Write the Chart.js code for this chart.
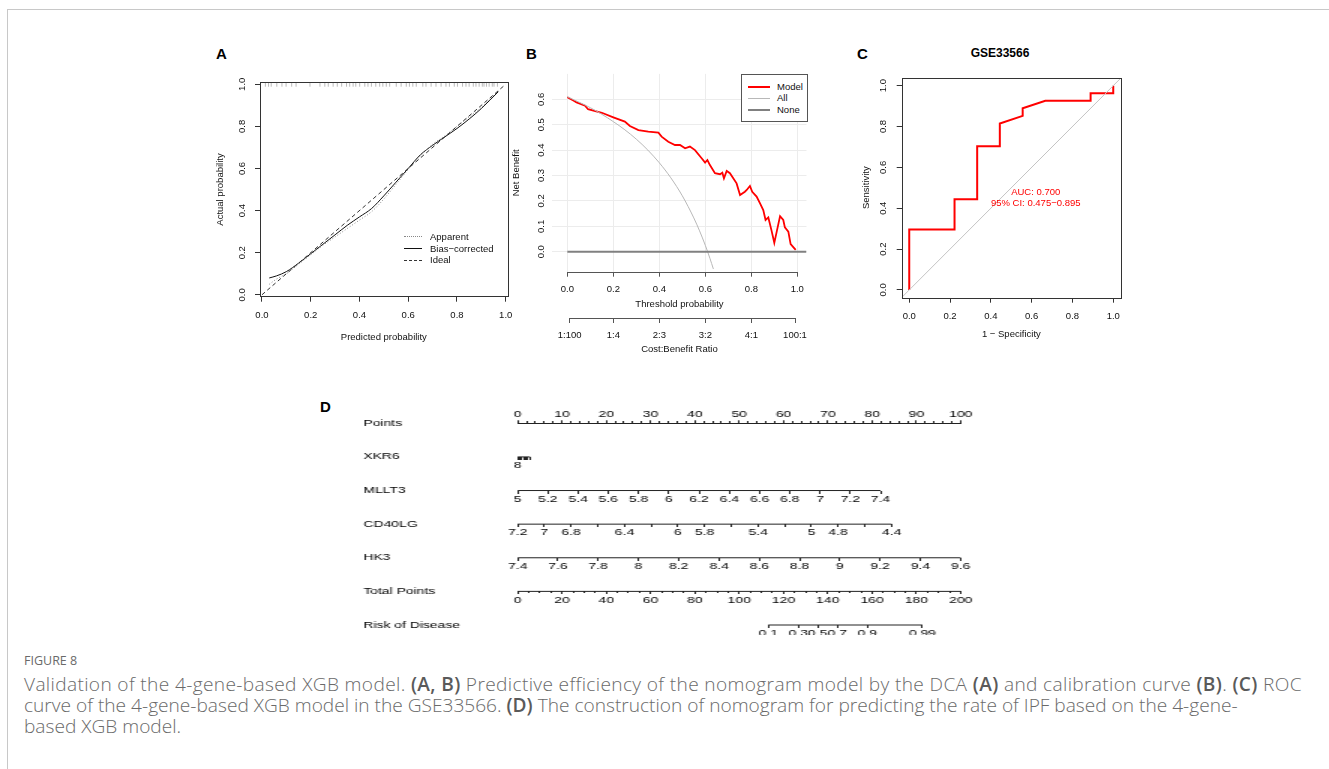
<!DOCTYPE html>
<html>
<head>
<meta charset="utf-8">
<script src="https://cdn.jsdelivr.net/npm/chart.js@4.4.0/dist/chart.umd.min.js"></script>
<style>
  body { margin: 0; background: #fff; width: 1329px; height: 769px; overflow: hidden; position: relative; font-family: "Liberation Sans", Arial, sans-serif; }
  .frame { position: absolute; left: 7px; top: 9px; width: 1400px; height: 900px; border: 1px solid #c8c8c8; }
  canvas { position: absolute; }
  .tag { position: absolute; font-weight: bold; font-size: 15px; line-height: 15px; color: #000; }
  .leg { position: absolute; font-size: 9.5px; line-height: 12px; color: #111; white-space: nowrap; }
  .sw { position: absolute; height: 0; }
  .capline { position: absolute; left: 24px; white-space: nowrap; color: #6a6a6a; font-family: "Open Sans", sans-serif; font-weight: 300; line-height: 1; }
  .capline b { font-weight: 600; color: #5a5a5a; }
</style>
</head>
<body>
<div class="frame"></div>

<div class="tag" style="left:216px;top:45.5px">A</div>
<div class="tag" style="left:526px;top:45.5px">B</div>
<div class="tag" style="left:857px;top:45.5px">C</div>
<div class="tag" style="left:320px;top:399px">D</div>
<div style="position:absolute;left:900px;top:46.5px;width:200px;text-align:center;font-weight:bold;font-size:12px;line-height:12px;color:#000">GSE33566</div>

<canvas id="cA" width="320" height="310" style="left:200px;top:40px;width:320px;height:310px"></canvas>
<canvas id="cB" width="320" height="320" style="left:505px;top:40px;width:320px;height:320px"></canvas>
<canvas id="cC" width="300" height="310" style="left:840px;top:40px;width:300px;height:310px"></canvas>
<canvas id="cD" width="480" height="240" style="left:300px;top:395px;width:480px;height:240px;transform:scaleX(1.5);transform-origin:0 0"></canvas>

<!-- legend A -->
<div class="sw" style="left:404px;top:236px;width:18px;border-top:1px dotted #888"></div>
<div class="leg" style="left:430px;top:230.7px">Apparent</div>
<div class="sw" style="left:404px;top:248px;width:18px;border-top:1px solid #111"></div>
<div class="leg" style="left:430px;top:242.7px">Bias−corrected</div>
<div class="sw" style="left:404px;top:259.5px;width:18px;border-top:1px dashed #333"></div>
<div class="leg" style="left:430px;top:254px">Ideal</div>

<!-- legend B -->
<div style="position:absolute;left:741px;top:74px;width:65px;height:46px;border:1px solid #555;background:#fff"></div>
<div class="sw" style="left:748px;top:86px;width:22px;border-top:2px solid #ff0000"></div>
<div class="leg" style="left:777px;top:80.7px">Model</div>
<div class="sw" style="left:748px;top:98px;width:22px;border-top:1px solid #b8b8b8"></div>
<div class="leg" style="left:777px;top:92.3px">All</div>
<div class="sw" style="left:748px;top:109px;width:22px;border-top:2px solid #808080"></div>
<div class="leg" style="left:777px;top:104px">None</div>

<div style="position:absolute;left:24px;top:655px;font-family:'Open Sans',sans-serif;font-size:12.5px;line-height:12.5px;color:#6a6a6a">FIGURE 8</div>
<div class="capline">Validation of the 4-gene-based XGB model. <b>(A, B)</b> Predictive efficiency of the nomogram model by the DCA <b>(A)</b> and calibration curve <b>(B)</b>. <b>(C)</b> ROC</div>
<div class="capline">curve of the 4-gene-based XGB model in the GSE33566. <b>(D)</b> The construction of nomogram for predicting the rate of IPF based on the 4-gene-</div>
<div class="capline">based XGB model.</div>

<script>
// ---- A: calibration curve ----
const predictedGrid = [0.03, 0.06, 0.1, 0.15, 0.2, 0.25, 0.3, 0.35, 0.4, 0.45, 0.5, 0.55, 0.6, 0.65, 0.7, 0.75, 0.8, 0.85, 0.9, 0.97];
const apparentProb = [0.05, 0.075, 0.1, 0.145, 0.19, 0.235, 0.275, 0.315, 0.355, 0.395, 0.455, 0.525, 0.595, 0.66, 0.715, 0.755, 0.8, 0.845, 0.89, 0.97];
const biasCorrectedProb = [0.08, 0.09, 0.11, 0.15, 0.195, 0.24, 0.285, 0.33, 0.37, 0.41, 0.47, 0.535, 0.6, 0.665, 0.71, 0.75, 0.79, 0.835, 0.885, 0.965];
const idealLine = [0, 1];
const rugPredicted = [0.014, 0.027, 0.038, 0.061, 0.082, 0.099, 0.122, 0.14, 0.197, 0.238, 0.258, 0.272, 0.292, 0.309, 0.327, 0.347, 0.36, 0.374, 0.385, 0.401, 0.422, 0.435, 0.449, 0.467, 0.483, 0.496, 0.51, 0.524, 0.551, 0.571, 0.592, 0.605, 0.619, 0.633, 0.66, 0.673, 0.694, 0.714, 0.735, 0.755, 0.769, 0.789, 0.802, 0.823, 0.837, 0.85, 0.867, 0.878, 0.891, 0.904, 0.911, 0.921, 0.932, 0.945, 0.952, 0.966];
const probTicks = [0, 0.2, 0.4, 0.6, 0.8, 1.0];

// ---- B: decision curve ----
const thresholdModel = [0, 0.026, 0.04, 0.077, 0.09, 0.15, 0.2, 0.25, 0.272, 0.309, 0.352, 0.396, 0.41, 0.439, 0.468, 0.49, 0.512, 0.533, 0.555, 0.584, 0.599, 0.609, 0.62, 0.642, 0.664, 0.674, 0.681, 0.693, 0.707, 0.736, 0.751, 0.772, 0.78, 0.794, 0.804, 0.823, 0.838, 0.852, 0.862, 0.874, 0.888, 0.9, 0.925, 0.939, 0.946, 0.961, 0.971, 0.993];
const netBenefitModel = [0.608, 0.595, 0.588, 0.575, 0.561, 0.547, 0.529, 0.512, 0.495, 0.479, 0.473, 0.469, 0.453, 0.433, 0.42, 0.42, 0.407, 0.414, 0.40, 0.368, 0.351, 0.361, 0.341, 0.309, 0.305, 0.311, 0.289, 0.318, 0.309, 0.269, 0.223, 0.236, 0.243, 0.259, 0.236, 0.217, 0.19, 0.164, 0.125, 0.135, 0.083, 0.035, 0.14, 0.125, 0.096, 0.079, 0.03, 0.007];
const thresholdAll = [0, 0.05, 0.1, 0.15, 0.2, 0.25, 0.3, 0.35, 0.4, 0.45, 0.5, 0.55, 0.575, 0.6, 0.62, 0.635];
const netBenefitAll = [0.61, 0.589, 0.567, 0.541, 0.512, 0.48, 0.443, 0.40, 0.35, 0.291, 0.22, 0.133, 0.082, 0.025, -0.026, -0.068];
const thresholdNone = [0, 1.04];
const netBenefitNone = [0, 0];
const thresholdTicks = [0, 0.2, 0.4, 0.6, 0.8, 1.0];
const netBenefitTicks = [0, 0.1, 0.2, 0.3, 0.4, 0.5, 0.6];
const costBenefitLabels = ['1:100', '1:4', '2:3', '3:2', '4:1', '100:1'];
const costBenefitAt = [0.0099, 0.2, 0.4, 0.6, 0.8, 0.99];

// ---- C: ROC ----
const rocFpr = [0, 0, 0.222, 0.222, 0.333, 0.333, 0.444, 0.444, 0.556, 0.556, 0.667, 0.889, 0.889, 1, 1];
const rocTpr = [0, 0.296, 0.296, 0.444, 0.444, 0.704, 0.704, 0.815, 0.852, 0.889, 0.926, 0.926, 0.963, 0.963, 1];
const chanceLine = [-0.05, 1.05];
const aucText = ['AUC: 0.700', '95% CI: 0.475−0.895'];

// ---- D: nomogram ----
const rowNames = ['Points', 'XKR6', 'MLLT3', 'CD40LG', 'HK3', 'Total Points', 'Risk of Disease'];
const pointsTicks = [0, 10, 20, 30, 40, 50, 60, 70, 80, 90, 100];
const xkr6Ticks = [8, 8.2, 8.4, 8.6, 8.8, 9, 9.2];
const xkr6Labeled = [8];
const xkr6MaxPoints = 2.8;
const mllt3Ticks = [5, 5.2, 5.4, 5.6, 5.8, 6, 6.2, 6.4, 6.6, 6.8, 7, 7.2, 7.4];
const mllt3MaxPoints = 81.9;
const cd40lgTicks = [7.2, 7, 6.8, 6.6, 6.4, 6.2, 6, 5.8, 5.6, 5.4, 5.2, 5, 4.8, 4.6, 4.4];
const cd40lgLabeled = [7.2, 7, 6.8, 6.4, 6, 5.8, 5.4, 5, 4.8, 4.4];
const cd40lgMaxPoints = 84.4;
const hk3Ticks = [7.4, 7.6, 7.8, 8, 8.2, 8.4, 8.6, 8.8, 9, 9.2, 9.4, 9.6];
const hk3MaxPoints = 100;
const totalTicks = [0, 20, 40, 60, 80, 100, 120, 140, 160, 180, 200];
const riskLabels = ['0.1', '0.3', '0.5', '0.7', '0.9', '0.99'];
const riskTotalPoints = [113.1, 126.7, 135.4, 144.3, 157.8, 182.7];

Chart.defaults.font.family = '"Liberation Sans", Arial, sans-serif';
Chart.defaults.font.size = 9.5;
Chart.defaults.color = '#111';
Chart.defaults.animation = false;
Chart.defaults.responsive = false;
Chart.defaults.devicePixelRatio = 1;
Chart.defaults.events = [];
Chart.defaults.plugins.legend.display = false;
Chart.defaults.plugins.tooltip.enabled = false;
Chart.defaults.elements.point.radius = 0;

const pts = (xs, ys) => xs.map((x, i) => ({ x: x, y: ys[i] }));
const setTicks = vals => s => { s.ticks = vals.map(v => ({ value: v })); };
const f1 = v => v.toFixed(1);
const fmt = v => String(+v.toFixed(2));

const boxPlugin = {
  id: 'box',
  afterDraw(chart) {
    const { ctx, chartArea: a } = chart;
    ctx.save();
    ctx.strokeStyle = '#333';
    ctx.lineWidth = 1;
    ctx.strokeRect(Math.round(a.left) + 0.5, Math.round(a.top) + 0.5, Math.round(a.width), Math.round(a.height));
    ctx.restore();
  }
};

const axisLinePlugin = {
  id: 'axisLine',
  afterDraw(chart, args, opts) {
    const ctx = chart.ctx;
    (opts.scales || []).forEach(id => {
      const s = chart.scales[id];
      const t = s.ticks;
      const y = Math.round(s.top) + 0.5;
      ctx.save();
      ctx.strokeStyle = opts.color || '#555';
      ctx.lineWidth = 1;
      ctx.beginPath();
      ctx.moveTo(s.getPixelForValue(t[0].value), y);
      ctx.lineTo(s.getPixelForValue(t[t.length - 1].value), y);
      ctx.stroke();
      ctx.restore();
    });
  }
};

const textPlugin = {
  id: 'dataText',
  afterDatasetsDraw(chart, args, opts) {
    const ctx = chart.ctx;
    const px = chart.scales.x.getPixelForValue(opts.x);
    const py = chart.scales.y.getPixelForValue(opts.y);
    ctx.save();
    ctx.fillStyle = opts.color;
    ctx.font = '9.5px "Liberation Sans", Arial, sans-serif';
    ctx.textAlign = 'center';
    ctx.textBaseline = 'middle';
    opts.lines.forEach((l, i) => ctx.fillText(l, px, py + i * 11));
    ctx.restore();
  }
};

// Panel A
new Chart(document.getElementById('cA'), {
  type: 'scatter',
  data: {
    datasets: [
      { data: pts(idealLine, idealLine), showLine: true, borderColor: '#333', borderWidth: 1, borderDash: [4, 3] },
      { data: pts(predictedGrid, apparentProb), showLine: true, borderColor: '#8a8a8a', borderWidth: 1, borderDash: [1, 2], cubicInterpolationMode: 'monotone' },
      { data: pts(predictedGrid, biasCorrectedProb), showLine: true, borderColor: '#111', borderWidth: 1, cubicInterpolationMode: 'monotone' },
      { data: rugPredicted.map(x => ({ x: x, y: 0.998 })), pointStyle: 'line', rotation: 90, pointRadius: 2, borderColor: '#bbb', borderWidth: 1 }
    ]
  },
  options: {
    layout: { padding: { left: 10, right: 12, top: 42.3, bottom: 0 } },
    scales: {
      x: {
        type: 'linear', min: -0.008, max: 1.008,
        afterBuildTicks: setTicks(probTicks), afterFit: s => { s.height = 53.3; },
        grid: { drawOnChartArea: false, tickLength: 5, color: '#333' }, border: { display: false },
        ticks: { padding: 7.6, autoSkip: false, maxRotation: 0, callback: f1 },
        title: { display: true, text: 'Predicted probability', padding: { top: 0, bottom: 7.3 } }
      },
      y: {
        type: 'linear', min: -0.009, max: 1.0095,
        afterBuildTicks: setTicks(probTicks), afterFit: s => { s.width = 50; },
        grid: { drawOnChartArea: false, tickLength: 5, color: '#333' }, border: { display: false },
        ticks: { padding: 6.4, autoSkip: false, minRotation: 90, maxRotation: 90, crossAlign: 'center', callback: f1 },
        title: { display: true, text: 'Actual probability', padding: { top: 4.3, bottom: 0 } }
      }
    }
  },
  plugins: [boxPlugin]
});

// Panel B
new Chart(document.getElementById('cB'), {
  type: 'scatter',
  data: {
    datasets: [
      { data: pts(thresholdNone, netBenefitNone), showLine: true, borderColor: '#808080', borderWidth: 2 },
      { data: pts(thresholdAll, netBenefitAll), showLine: true, borderColor: '#b8b8b8', borderWidth: 1, cubicInterpolationMode: 'monotone' },
      { data: pts(thresholdModel, netBenefitModel), showLine: true, borderColor: '#ff0000', borderWidth: 1.8 }
    ]
  },
  options: {
    layout: { padding: { left: 2, right: 18.5, top: 33.9, bottom: 0 } },
    plugins: { axisLine: { scales: ['x', 'x2'], color: '#555' } },
    scales: {
      x: {
        type: 'linear', position: 'bottom', weight: 0, min: -0.065, max: 1.04,
        afterBuildTicks: setTicks(thresholdTicks), afterFit: s => { s.height = 46.3; },
        grid: { color: '#ececec', tickColor: '#555', tickLength: 5 }, border: { display: false },
        ticks: { padding: 6.6, autoSkip: false, maxRotation: 0, callback: f1 },
        title: { display: true, text: 'Threshold probability', padding: { top: 0, bottom: 8.3 } }
      },
      x2: {
        type: 'linear', axis: 'x', position: 'bottom', weight: 1, min: -0.065, max: 1.04,
        afterBuildTicks: setTicks(costBenefitAt), afterFit: s => { s.height = 42; },
        grid: { drawOnChartArea: false, color: '#555', tickLength: 5 }, border: { display: false },
        ticks: { padding: 6.3, autoSkip: false, maxRotation: 0, callback: (v, i) => costBenefitLabels[i] },
        title: { display: true, text: 'Cost:Benefit Ratio', padding: { top: 0, bottom: 5.3 } }
      },
      y: {
        type: 'linear', min: -0.0787, max: 0.70,
        afterBuildTicks: setTicks(netBenefitTicks), afterFit: s => { s.width = 45.4; },
        grid: { color: '#ececec', drawTicks: false }, border: { display: false },
        ticks: { padding: 4.1, autoSkip: false, minRotation: 90, maxRotation: 90, crossAlign: 'center', callback: f1 },
        title: { display: true, text: 'Net Benefit', padding: { top: 4, bottom: 0 } }
      }
    }
  },
  plugins: [axisLinePlugin]
});

// Panel C
new Chart(document.getElementById('cC'), {
  type: 'scatter',
  data: {
    datasets: [
      { data: pts(chanceLine, chanceLine), showLine: true, borderColor: '#c4c4c4', borderWidth: 1 },
      { data: pts(rocFpr, rocTpr), showLine: true, borderColor: '#ff0000', borderWidth: 2 }
    ]
  },
  options: {
    layout: { padding: { left: 15, right: 19, top: 37.7, bottom: 0 } },
    plugins: { dataText: { x: 0.62, y: 0.478, lines: aucText, color: '#ff0000' } },
    scales: {
      x: {
        type: 'linear', min: -0.037, max: 1.038,
        afterBuildTicks: setTicks(probTicks), afterFit: s => { s.height = 52.3; },
        grid: { drawOnChartArea: false, tickLength: 5, color: '#333' }, border: { display: false },
        ticks: { padding: 7.6, autoSkip: false, maxRotation: 0, callback: f1 },
        title: { display: true, text: '1 − Specificity', padding: { top: 0, bottom: 10.3 } }
      },
      y: {
        type: 'linear', min: -0.038, max: 1.039,
        afterBuildTicks: setTicks(probTicks), afterFit: s => { s.width = 46.7; },
        grid: { drawOnChartArea: false, tickLength: 5, color: '#333' }, border: { display: false },
        ticks: { padding: 7.1, autoSkip: false, minRotation: 90, maxRotation: 90, crossAlign: 'center', callback: f1 },
        title: { display: true, text: 'Sensitivity', padding: { top: 6, bottom: 0 } }
      }
    }
  },
  plugins: [boxPlugin, textPlugin]
});

// Panel D: nomogram, every row is an x axis placed on a hidden row scale
const nomoFont = { size: 9.3 };
function rowAxis(row, ticks, labelFn, min, max, reverse, tickLength) {
  return {
    type: 'linear', axis: 'x', position: { y: row }, min: min, max: max, reverse: !!reverse,
    afterBuildTicks: setTicks(ticks),
    grid: { drawOnChartArea: false, tickLength: tickLength || 3, color: '#222' }, border: { display: false },
    ticks: { padding: 0, autoSkip: false, minRotation: 0, maxRotation: 0, font: nomoFont, color: '#000', display: !!labelFn, callback: labelFn || (() => '') }
  };
}
function varAxis(row, ticks, labeled, maxPoints) {
  const lo = ticks[0], hi = ticks[ticks.length - 1];
  const span = (hi - lo) * 100 / maxPoints;
  const rev = hi < lo;
  return rowAxis(row, ticks, v => labeled.includes(v) ? fmt(v) : '', rev ? lo + span : lo, rev ? lo : lo + span, rev);
}
function rowLine(axisId, row, a, b) {
  return { xAxisID: axisId, yAxisID: 'y', data: [{ x: a, y: row }, { x: b, y: row }], showLine: true, borderColor: '#222', borderWidth: 1, clip: false };
}
const minorPoints = [];
for (let p = 0; p <= 100; p += 2) minorPoints.push(p);
const minorTotal = [];
for (let p = 0; p <= 200; p += 5) minorTotal.push(p);

new Chart(document.getElementById('cD'), {
  type: 'scatter',
  data: {
    datasets: [
      rowLine('xXKR6', 1, xkr6Ticks[0], xkr6Ticks[xkr6Ticks.length - 1]),
      rowLine('xMLLT3', 2, mllt3Ticks[0], mllt3Ticks[mllt3Ticks.length - 1]),
      rowLine('xCD40LG', 3, cd40lgTicks[0], cd40lgTicks[cd40lgTicks.length - 1]),
      rowLine('xHK3', 4, hk3Ticks[0], hk3Ticks[hk3Ticks.length - 1]),
      rowLine('xTotal', 5, totalTicks[0], totalTicks[totalTicks.length - 1]),
      rowLine('xRisk', 6, riskTotalPoints[0], riskTotalPoints[riskTotalPoints.length - 1])
    ]
  },
  options: {
    layout: { padding: { left: 42.2, right: 39.5, top: 0, bottom: 10 } },
    scales: {
      y: {
        type: 'linear', position: 'left', min: 0, max: 6, reverse: true,
        afterBuildTicks: setTicks([0, 1, 2, 3, 4, 5, 6]), afterFit: s => { s.width = 102.9; },
        grid: { display: false }, border: { display: false },
        ticks: { crossAlign: 'far', autoSkip: false, font: nomoFont, color: '#000', callback: v => rowNames[v] }
      },
      xPoints: {
        type: 'linear', axis: 'x', position: 'top', min: 0, max: 100,
        afterBuildTicks: setTicks(pointsTicks), afterFit: s => { s.height = 28.3; },
        grid: { drawOnChartArea: false, tickLength: 3, color: '#222' }, border: { display: true, color: '#222', width: 1 },
        ticks: { padding: 0.5, autoSkip: false, maxRotation: 0, font: nomoFont, color: '#000', callback: v => String(v) }
      },
      xPointsMinor: rowAxis(-0.06, minorPoints, null, 0, 100, false, 2),
      xXKR6: varAxis(1, xkr6Ticks, xkr6Labeled, xkr6MaxPoints),
      xMLLT3: varAxis(2, mllt3Ticks, mllt3Ticks, mllt3MaxPoints),
      xCD40LG: varAxis(3, cd40lgTicks, cd40lgLabeled, cd40lgMaxPoints),
      xHK3: varAxis(4, hk3Ticks, hk3Ticks, hk3MaxPoints),
      xTotal: rowAxis(5, totalTicks, v => String(v), 0, 200, false, 3),
      xTotalMinor: rowAxis(5, minorTotal, null, 0, 200, false, 2),
      xRisk: rowAxis(6, riskTotalPoints, (v, i) => riskLabels[i], 0, 200, false, 3)
    }
  }
});

// caption: one font size for all lines, taken from line 2; letter spacing fits line 1 to its reference width
const capLines = document.querySelectorAll('.capline');
const capBaselines = [692, 713, 734];
capLines.forEach(el => { el.style.fontSize = '16px'; });
const capSize = 16 * 1214 / capLines[1].getBoundingClientRect().width;
capLines.forEach((el, i) => {
  el.style.fontSize = capSize + 'px';
  el.style.top = (capBaselines[i] - 0.888 * capSize) + 'px';
});
const line1 = capLines[0];
line1.style.letterSpacing = ((1278 - line1.getBoundingClientRect().width) / line1.textContent.length) + 'px';
</script>
</body>
</html>
